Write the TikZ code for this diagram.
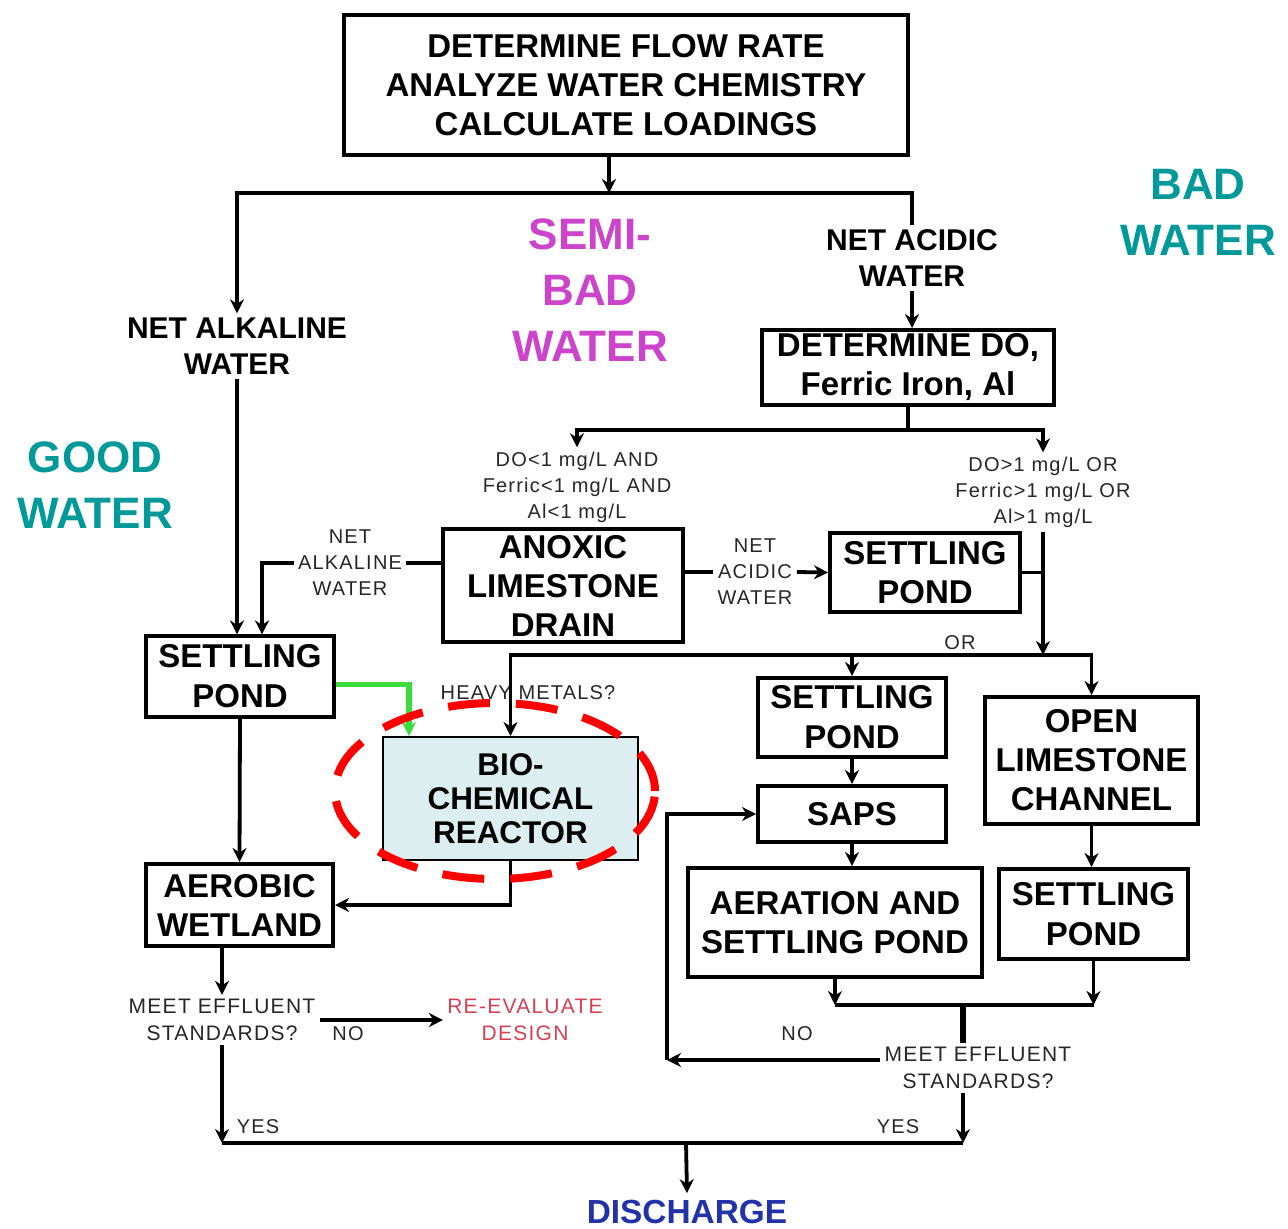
\documentclass[tikz,border=0pt]{standalone}
\usepackage{fontspec}
\setmainfont{Liberation Sans}
\newfontfamily\spacedfont[LetterSpace=6]{Liberation Sans}
\usetikzlibrary{arrows.meta}

\definecolor{goodteal}{RGB}{0,153,153}
\definecolor{semimag}{RGB}{204,68,204}
\definecolor{dischblue}{RGB}{34,51,170}
\definecolor{reevalred}{RGB}{214,64,84}
\definecolor{pipegreen}{RGB}{60,220,60}
\definecolor{bcrfill}{RGB}{220,238,240}

\begin{document}
\begin{tikzpicture}[x=0.5pt,y=-0.5pt,
        box/.style={draw,line width=2pt,align=center,inner sep=0pt,font=\fontsize{16.5}{19.5}\selectfont\bfseries},
        midtxt/.style={align=center,inner sep=2pt,font=\fontsize{15}{18}\selectfont\bfseries},
        smalltxt/.style={align=center,inner sep=2pt,text=black!85,font=\fontsize{10}{13}\selectfont\spacedfont},
        watertxt/.style={align=center,font=\fontsize{22}{28}\selectfont\bfseries},
        pipe/.style={line width=1.9pt},
        arr/.style={pipe,-{Stealth[length=7pt,width=7pt]}},
        greenarr/.style={arr,draw=pipegreen,line width=2.6pt},
        ring/.style={draw=red,line width=4pt,dash pattern=on 21pt off 13pt}]
            \useasboundingbox (0,0) rectangle (1288,1229);

            % boxes
            \node[box,minimum width=282pt,minimum height=70pt] (top) at (626,85) {DETERMINE FLOW RATE\\ANALYZE WATER CHEMISTRY\\CALCULATE LOADINGS};
            \node[box,minimum width=146pt,minimum height=37.5pt] (dodet) at (908,367.5) {DETERMINE DO,\\Ferric Iron, Al};
            \node[box,minimum width=120pt,minimum height=56.5pt] (ald) at (563,585.5) {ANOXIC\\LIMESTONE\\DRAIN};
            \node[box,minimum width=95pt,minimum height=39.5pt] (spAcid) at (925,572.5) {SETTLING\\POND};
            \node[box,line width=1.6pt,minimum width=94pt,minimum height=40.5pt,font=\fontsize{16.5}{20}\selectfont\bfseries] (spAlk) at (240,676.5) {SETTLING\\POND};
            \node[box,line width=1pt,fill=bcrfill,minimum width=127.5pt,minimum height=61.5pt,font=\fontsize{15.7}{17}\selectfont\bfseries] (bcr) at (510.5,798.5) {BIO-\\CHEMICAL\\REACTOR};
            \node[box,minimum width=93.5pt,minimum height=41pt] (aer) at (239.5,905) {AEROBIC\\WETLAND};
            \node[box,minimum width=94pt,minimum height=39.5pt,font=\fontsize{16.5}{20}\selectfont\bfseries] (spSaps) at (852,717.5) {SETTLING\\POND};
            \node[box,minimum width=94pt,minimum height=28pt] (saps) at (852,814) {SAPS};
            \node[box,minimum width=147pt,minimum height=54.5pt] (aersp) at (835,922.5) {AERATION AND\\SETTLING POND};
            \node[box,minimum width=106.5pt,minimum height=63.5pt] (olc) at (1091.5,760.5) {OPEN\\LIMESTONE\\CHANNEL};
            \node[box,minimum width=94.5pt,minimum height=45pt,font=\fontsize{16.5}{20}\selectfont\bfseries] (spOlc) at (1093.5,914) {SETTLING\\POND};

            % texts
            \node[midtxt] (alkTop) at (237,346) {NET ALKALINE\\WATER};
            \node[midtxt] (acidTop) at (912,258) {NET ACIDIC\\WATER};
            \node[smalltxt] (lowtxt) at (577,487) {DO<1 mg/L AND\\Ferric<1 mg/L AND\\Al<1 mg/L};
            \node[smalltxt] (hightxt) at (1043,492) {DO>1 mg/L OR\\Ferric>1 mg/L OR\\Al>1 mg/L};
            \node[smalltxt] (alkMid) at (350,563) {NET\\ALKALINE\\WATER};
            \node[smalltxt] (acidMid) at (755,572) {NET\\ACIDIC\\WATER};
            \node[smalltxt] (orTxt) at (960,643) {OR};
            \node[smalltxt] (heavy) at (528,693) {HEAVY METALS?};
            \node[smalltxt,font=\fontsize{10.5}{13.5}\selectfont\spacedfont] (meetL) at (222,1020) {MEET EFFLUENT\\STANDARDS?};
            \node[smalltxt,text=reevalred,font=\fontsize{10.5}{13.5}\selectfont\spacedfont] (reeval) at (525,1020) {RE-EVALUATE\\DESIGN};
            \node[smalltxt,font=\fontsize{10.5}{13.5}\selectfont\spacedfont] (meetR) at (978,1068) {MEET EFFLUENT\\STANDARDS?};
            \node[smalltxt] (noL) at (348,1034) {NO};
            \node[smalltxt] (noR) at (797,1034) {NO};
            \node[smalltxt] (yesL) at (258,1127) {YES};
            \node[smalltxt] (yesR) at (898,1127) {YES};
            \node[font=\fontsize{16.7}{20}\selectfont\bfseries,text=dischblue] (discharge) at (687,1212) {DISCHARGE};

            \node[watertxt,text=goodteal] (badW) at (1198,212) {BAD\\WATER};
            \node[watertxt,text=semimag] (semiW) at (590,290) {SEMI-\\BAD\\WATER};
            \node[watertxt,text=goodteal] (goodW) at (95,485) {GOOD\\WATER};

            \coordinate (split1) at (609,193);
            \coordinate (split2) at (908,430);
            \coordinate (split3) at (1043,655);
            \coordinate (loopC) at (667,1060);
            \coordinate (mergeR) at (963,1005);
            \coordinate (bus) at (686,1143);

            % upper part
            \draw[arr] (top.south -| split1) -- (split1);
            \draw[arr] (split1) -| (alkTop.north);
            \draw[pipe] (split1) -| (acidTop.north);
            \draw[arr] (acidTop.south) -- (acidTop.south |- dodet.north);
            \draw[pipe] (dodet.south) -- (split2);
            \draw[arr] (split2) -| (lowtxt.north);
            \draw[arr] (split2) -| (hightxt.north);

            % anoxic drain
            \draw[pipe] (ald.west |- alkMid) -- (alkMid.east);
            \draw[arr] (alkMid.west) -| ([xshift=11pt]spAlk.north);
            \draw[pipe] (ald.east |- acidMid) -- (acidMid.west);
            \draw[arr] (acidMid.east) -- (spAcid.west);
            \draw[pipe] (spAcid.east) -- (spAcid.east -| split3);
            \draw[arr] (hightxt.south) -- (split3);
            \draw[arr] (split3) -| (olc.north);
            \draw[arr] (split3) -| (spSaps.north);
            \draw[arr] (split3) -| (bcr.north);

            % good water side
            \draw[arr] (alkTop.south) -- (alkTop.south |- spAlk.north);
            \draw[greenarr] ([yshift=-4pt]spAlk.east) -| ([xshift=13.5pt]bcr.north west);
            \draw[arr] (spAlk.south) -- (aer.north);
            \draw[arr] (bcr.south) |- (aer.east);
            \draw[ring] (495,791) ellipse [x radius=80pt,y radius=44pt];
            \draw[arr] (aer.south -| meetL) -- (meetL.north);
            \draw[arr] (meetL.east) -- (reeval.west);
            \draw[arr] (meetL.south) -- (meetL.south |- bus);

            % bad water side
            \draw[arr] (spSaps.south) -- (saps.north);
            \draw[arr] (saps.south) -- (saps.south |- aersp.north);
            \draw[arr] (olc.south) -- (olc.south |- spOlc.north);
            \draw[arr] (aersp.south) -- (aersp.south |- mergeR);
            \draw[arr] (spOlc.south) -- (spOlc.south |- mergeR);
            \draw[pipe] (aersp.south |- mergeR) -- (spOlc.south |- mergeR);
            \draw[line width=2.6pt] (mergeR) -- (mergeR |- meetR.north);
            \draw[arr] (meetR.west |- loopC) -- (loopC);
            \draw[arr] (loopC) |- (saps.west);
            \draw[arr] (mergeR |- meetR.south) -- (mergeR |- bus);

            % discharge
            \draw[pipe] (meetL.south |- bus) -- (mergeR |- bus);
            \draw[arr] (bus) -- (discharge.north);
        \end{tikzpicture}
\end{document}
